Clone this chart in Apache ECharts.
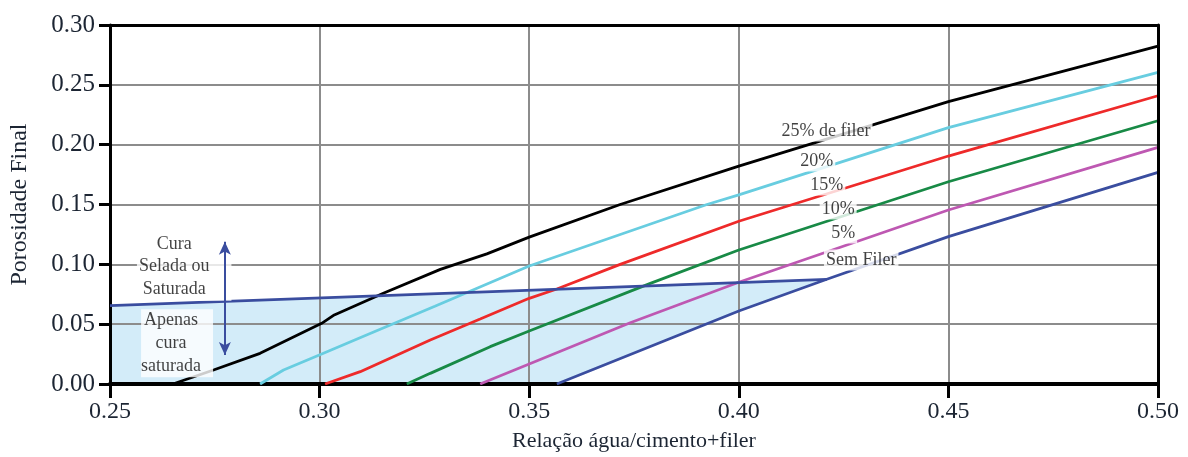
<!DOCTYPE html>
<html><head><meta charset="utf-8">
<script src="https://cdn.jsdelivr.net/npm/echarts@6/dist/echarts.min.js"></script>
<style>html,body{margin:0;padding:0;background:#fff}#c{width:1188px;height:457px}</style>
</head><body><div id="c"></div>
<script>
const SERIF = '"Liberation Serif","DejaVu Serif",serif';
const TXT = '#1c2533';

// Curves: [relação água/cimento+filer, porosidade final]
const filer25 = [[0.265,0],[0.2747,0.0117],[0.2858,0.0256],[0.3005,0.0507],[0.3035,0.0577],[0.3152,0.0758],[0.3288,0.0958],[0.3399,0.1087],[0.35,0.1227],[0.3717,0.15],[0.40,0.182],[0.45,0.236],[0.50,0.2824]];
const filer20 = [[0.2858,0],[0.2914,0.0117],[0.3005,0.0251],[0.3112,0.041],[0.3275,0.065],[0.35,0.0986],[0.3924,0.15],[0.40,0.158],[0.45,0.2142],[0.50,0.2604]];
const filer15 = [[0.3013,0],[0.3097,0.0103],[0.3264,0.0368],[0.3383,0.0543],[0.35,0.0716],[0.3566,0.0794],[0.3717,0.10],[0.40,0.136],[0.45,0.1905],[0.50,0.2409]];
const filer10 = [[0.3208,0],[0.3264,0.0089],[0.3407,0.0312],[0.35,0.0443],[0.3789,0.0841],[0.40,0.112],[0.45,0.169],[0.50,0.22]];
const filer5  = [[0.3383,0],[0.35,0.0167],[0.3741,0.0512],[0.40,0.085],[0.45,0.1454],[0.50,0.1978]];
const filer0  = [[0.3566,0],[0.40,0.061],[0.421,0.0875],[0.45,0.1231],[0.50,0.1769]];

// Boundary between "cura selada ou saturada" and "apenas cura saturada"
const curaLimit = [[0.25,0.0655],[0.421,0.0875]];
const shadedRegion = [[0.25,0],[0.25,0.0655],[0.421,0.0875],[0.40,0.061],[0.3566,0]];

const curveNames  = ['25% de filer','20%','15%','10%','5%','Sem Filer'];
const curveColors = ['#000000','#68cde0','#ee2a2a','#188a46','#be58b2','#3a4d9f'];
const curveLabelPos = [[0.4208,0.2114],[0.4186,0.1863],[0.421,0.1663],[0.4237,0.1462],[0.4249,0.1262],[0.4292,0.1036]];

const arrowEnds = [[0.2774,0.1189],[0.2774,0.0242]];
const noteTexts = ['Cura\nSelada ou\nSaturada','Apenas\ncura\nsaturada'];
const notePos = [[0.2677,0.098],[0.266,0.034]];

const xMin = 0.25, xMax = 0.50, xStep = 0.05;
const yMin = 0, yMax = 0.30, yStep = 0.05;

const curves = [filer25, filer20, filer15, filer10, filer5, filer0];

const chart = echarts.init(document.getElementById('c'));
const labelFont = {fontFamily: SERIF, fontSize: 18, color: '#111'};

const series = [];
series.push({
  type: 'custom', z: -1, silent: true, animation: false,
  data: [[0.3, 0.03]],
  renderItem: function (params, api) {
    const pts = shadedRegion.map(p => api.coord(p));
    return {type: 'polygon', shape: {points: pts}, style: {fill: '#d3ecf9'}};
  }
});
curves.forEach((d, i) => {
  series.push({
    type: 'line', name: curveNames[i], data: d, showSymbol: false, symbol: 'none',
    smooth: false, animation: false, z: 2,
    lineStyle: {color: curveColors[i], width: 2.8}
  });
});
series.push({
  type: 'line', data: curaLimit, symbol: 'none', animation: false, z: 2,
  lineStyle: {color: '#3a4d9f', width: 2.8}
});
series.push({
  type: 'scatter', animation: false, z: 4, symbolSize: 0.1,
  itemStyle: {color: 'rgba(0,0,0,0)'},
  data: curveLabelPos.map((p, i) => ({value: p, name: curveNames[i]})),
  label: Object.assign({show: true, position: 'inside', formatter: p => p.name,
    backgroundColor: '#fff', padding: [1, 2, 0, 2], lineHeight: 20}, labelFont)
});
series.push({
  type: 'scatter', animation: false, z: 4, symbolSize: 0.1,
  itemStyle: {color: 'rgba(0,0,0,0)'},
  data: [
    {value: notePos[0], name: noteTexts[0], label: {padding: [0, 22, 0, 2]}},
    {value: notePos[1], name: noteTexts[1], label: {padding: [0, 12, 0, 0]}}
  ],
  label: Object.assign({show: true, position: 'inside', formatter: p => p.name,
    backgroundColor: '#fff', lineHeight: 22.7, align: 'center'}, labelFont)
});
series.push({
  type: 'line', data: [], animation: false, z: 6,
  markLine: {
    silent: true, animation: false, symbol: ['arrow', 'arrow'], symbolSize: [9, 13],
    label: {show: false},
    lineStyle: {color: '#3a4d9f', width: 2, type: 'solid'},
    data: [[{coord: arrowEnds[0]}, {coord: arrowEnds[1]}]]
  }
});

chart.setOption({
  animation: false,
  backgroundColor: '#fff',
  grid: {left: 110, right: 30, top: 25, bottom: 73, containLabel: false, outerBoundsMode: 'none'},
  xAxis: [{
    type: 'value', min: xMin, max: xMax, interval: xStep,
    name: 'Relação água/cimento+filer', nameLocation: 'middle', nameGap: 46,
    nameTextStyle: {fontFamily: SERIF, fontSize: 22, color: TXT},
    axisLine: {show: true, onZero: false, lineStyle: {color: '#000', width: 4}},
    axisTick: {show: true, length: 14, lineStyle: {color: '#000', width: 3}},
    axisLabel: {margin: 16, fontFamily: SERIF, fontSize: 24, color: TXT, formatter: v => v.toFixed(2)},
    splitLine: {show: true, lineStyle: {color: '#8c8c8c', width: 2}}
  }, {
    type: 'value', position: 'top', min: xMin, max: xMax, z: 3,
    axisLine: {show: true, onZero: false, lineStyle: {color: '#000', width: 3}},
    axisTick: {show: false}, axisLabel: {show: false}, splitLine: {show: false}
  }],
  yAxis: [{
    type: 'value', min: yMin, max: yMax, interval: yStep,
    name: 'Porosidade Final', nameLocation: 'middle', nameGap: 78,
    nameTextStyle: {fontFamily: SERIF, fontSize: 24, color: TXT},
    axisLine: {show: true, onZero: false, lineStyle: {color: '#000', width: 3}},
    axisTick: {show: true, length: 11, lineStyle: {color: '#000', width: 3}},
    axisLabel: {margin: 15, fontFamily: SERIF, fontSize: 25, color: TXT, formatter: v => v.toFixed(2)},
    splitLine: {show: true, lineStyle: {color: '#8c8c8c', width: 2}}
  }, {
    type: 'value', position: 'right', min: yMin, max: yMax, z: 3,
    axisLine: {show: true, onZero: false, lineStyle: {color: '#000', width: 3}},
    axisTick: {show: false}, axisLabel: {show: false}, splitLine: {show: false}
  }],
  series: series
});
</script>
</body></html>
